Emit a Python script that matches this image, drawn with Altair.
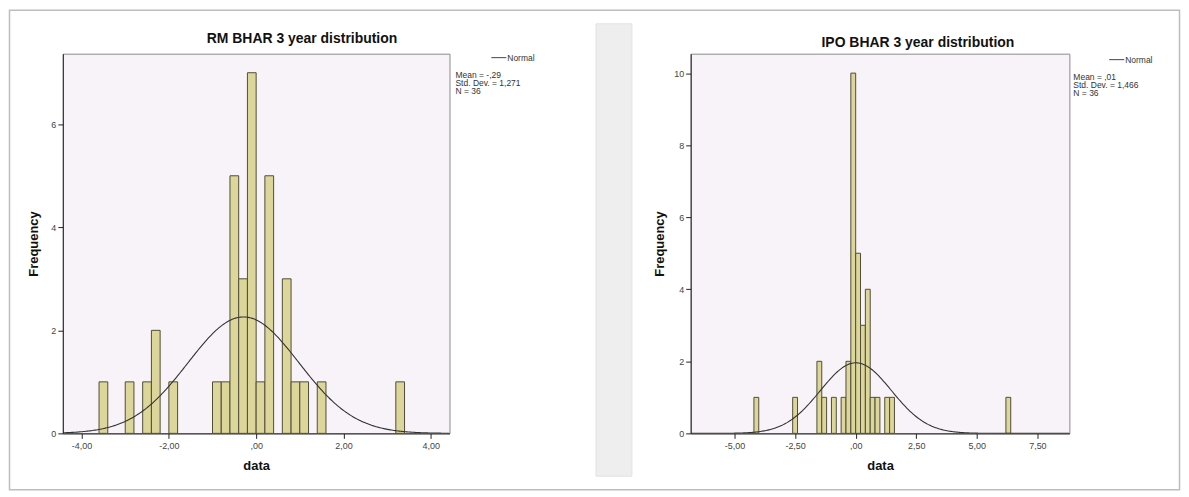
import altair as alt
import numpy as np
import pandas as pd

# ---------------- data ----------------
bin_width = 0.2

rm_centers = [-3.5, -2.9, -2.5, -2.3, -1.9, -0.9, -0.7, -0.5, -0.3, -0.1, 0.1, 0.3, 0.7, 0.9, 1.1, 1.5, 3.3]
rm_counts = [1, 1, 1, 2, 1, 1, 1, 5, 3, 7, 1, 5, 3, 1, 1, 1, 1]
rm_mean, rm_sd, rm_n = -0.29, 1.271, 36
rm_x_ticks = [-4, -2, 0, 2, 4]
rm_y_ticks = [0, 2, 4, 6]
rm_stat_lines = ["Mean = -,29", "Std. Dev. = 1,271", "N = 36"]
rm_title = "RM BHAR 3 year distribution"

ipo_centers = [-4.1, -2.5, -1.5, -1.3, -0.9, -0.5, -0.3, -0.1, 0.1, 0.3, 0.5, 0.7, 0.9, 1.3, 1.5, 6.3]
ipo_counts = [1, 1, 2, 1, 1, 1, 2, 10, 5, 3, 4, 1, 1, 1, 1, 1]
ipo_mean, ipo_sd, ipo_n = 0.01, 1.466, 36
ipo_x_ticks = [-5, -2.5, 0, 2.5, 5, 7.5]
ipo_y_ticks = [0, 2, 4, 6, 8, 10]
ipo_stat_lines = ["Mean = ,01", "Std. Dev. = 1,466", "N = 36"]
ipo_title = "IPO BHAR 3 year distribution"

legend_label = "Normal"
x_title = "data"
y_title = "Frequency"

# ---------------- styling ----------------
FONT = "Liberation Sans"
BAR_FILL = "#DDD69A"
BAR_STROKE = "#4F4D3A"
CURVE = "#333333"
LABEL_EXPR = ("datum.value == 0 ? ',00' : "
              "replace(replace(format(datum.value, '.2f'), '.', ','), '\u2212', '-')")


def normal_curve(domain, mean, sd, n, w, num=301):
    xs = np.linspace(domain[0], domain[1], num)
    ys = n * w / (sd * np.sqrt(2 * np.pi)) * np.exp(-0.5 * ((xs - mean) / sd) ** 2)
    return pd.DataFrame({"x": xs, "y": ys})


def panel(centers, counts, mean, sd, n, stat_lines, title, xdom, ydom, xticks, yticks,
          width, height, title_dx, title_dy, ytitle_pad, leg, deco=False):
    xscale = alt.Scale(domain=xdom, nice=False, zero=False)
    yscale = alt.Scale(domain=ydom, nice=False, zero=True)
    xaxis = alt.Axis(values=xticks, labelExpr=LABEL_EXPR, title=x_title, grid=False,
                     tickSize=5, labelPadding=3, titlePadding=9)
    yaxis = alt.Axis(values=yticks, format="d", title=y_title, grid=False,
                     tickSize=5, labelPadding=2, titlePadding=ytitle_pad)

    bars_df = pd.DataFrame({"center": centers, "count": counts})
    half = bin_width / 2
    bars = (
        alt.Chart(bars_df)
        .transform_calculate(lo=f"datum.center - {half}", hi=f"datum.center + {half}")
        .mark_rect(fill=BAR_FILL, stroke=BAR_STROKE, strokeWidth=1)
        .encode(
            x=alt.X("lo:Q", scale=xscale, axis=xaxis),
            x2="hi:Q",
            y=alt.Y("count:Q", scale=yscale, axis=yaxis),
            y2=alt.datum(0),
        )
    )

    curve = (
        alt.Chart(normal_curve(xdom, mean, sd, n, bin_width))
        .mark_line(color=CURVE, strokeWidth=1.1, clip=True)
        .encode(x=alt.X("x:Q", scale=xscale, axis=xaxis),
                y=alt.Y("y:Q", scale=yscale, axis=yaxis))
    )

    one = pd.DataFrame({"t": [legend_label]})
    lx0, lx1, ly, sx, sy = leg
    leg_line = alt.Chart(one).mark_rule(color="#444", strokeWidth=1).encode(
        x=alt.value(lx0), x2=alt.value(lx1), y=alt.value(ly))
    leg_text = alt.Chart(one).mark_text(
        align="left", baseline="middle", font=FONT, fontSize=8.5, color="#333", dx=1
    ).encode(x=alt.value(lx1), y=alt.value(ly), text="t:N")

    stats = alt.Chart(pd.DataFrame({"t": ["\n".join(stat_lines)]})).mark_text(
        align="left", baseline="top", font=FONT, fontSize=8.5, color="#333",
        lineBreak="\n", lineHeight=8
    ).encode(x=alt.value(sx), y=alt.value(sy), text="t:N")

    layers = []
    if deco:
        frame = alt.Chart(one).mark_rect(filled=False, stroke="#BDBDBD", strokeWidth=1.5).encode(
            x=alt.value(-53.5), x2=alt.value(1120.5), y=alt.value(-43.5), y2=alt.value(437.5))
        strip = alt.Chart(one).mark_rect(fill="#EEEEEE", stroke="#E2E2E2", strokeWidth=1).encode(
            x=alt.value(535), x2=alt.value(571), y=alt.value(-30), y2=alt.value(424))
        layers += [frame, strip]
    layers += [bars, curve, leg_line, leg_text, stats]

    return alt.layer(*layers).properties(
        width=width, height=height,
        title=alt.TitleParams(title, fontSize=14, fontWeight="bold", font=FONT, color="#111",
                              anchor="middle", frame="group", baseline="middle", offset=0,
                              dx=title_dx, dy=title_dy),
    )


left = panel(rm_centers, rm_counts, rm_mean, rm_sd, rm_n, rm_stat_lines, rm_title,
             [-4.43, 4.43], [0, 7.37], rm_x_ticks, rm_y_ticks,
             388, 381, 46, 44, 10, (430, 445, 4, 394, 17), deco=True)
right = panel(ipo_centers, ipo_counts, ipo_mean, ipo_sd, ipo_n, ipo_stat_lines, ipo_title,
              [-6.81, 8.82], [0, 10.54], ipo_x_ticks, ipo_y_ticks,
              380, 381, 38, 3, 7, (420, 435, 6, 384, 19))

chart = (
    alt.hconcat(left, right, spacing=242, bounds="flush", padding=0, background="white")
    .configure_view(fill="#F8F3F8", stroke="#8C8C8C", strokeWidth=1)
    .configure_axis(domainColor="#222", tickColor="#222", labelColor="#444",
                    labelFont=FONT, labelFontSize=9, titleFont=FONT, titleFontSize=13,
                    titleFontWeight="bold", titleColor="#111")
)

chart.save("out.html", embed_options={"renderer": "svg", "actions": False})
